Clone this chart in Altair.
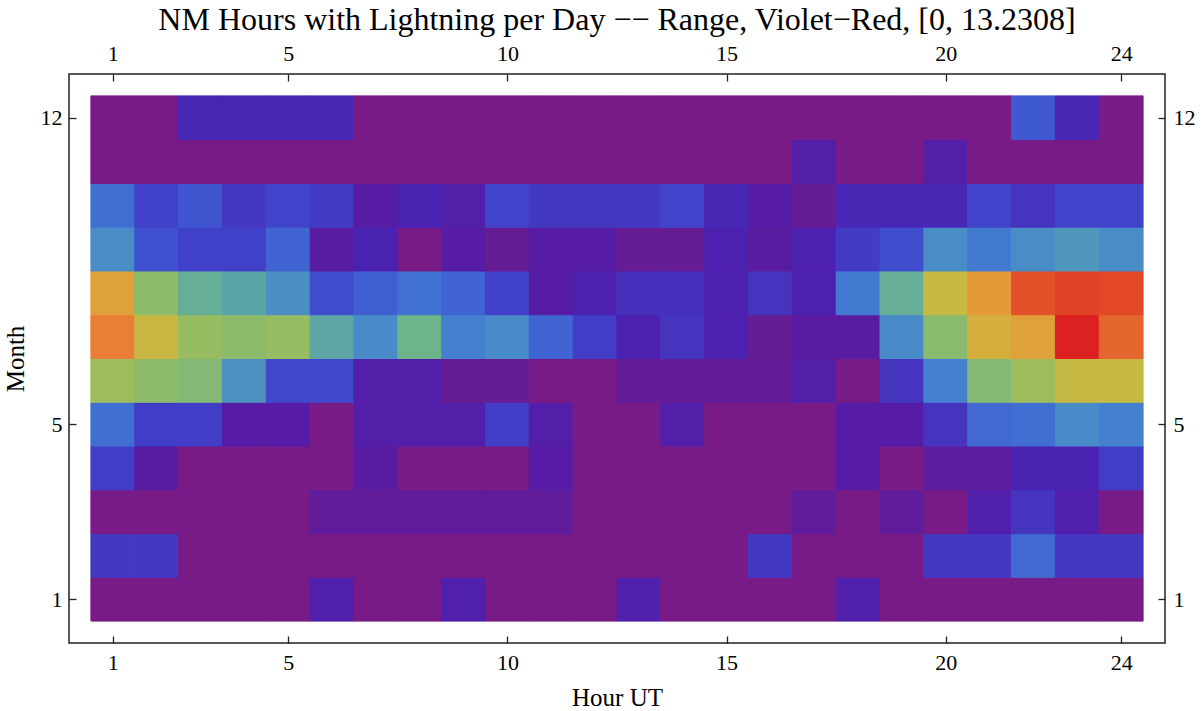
import altair as alt
import pandas as pd

# Average hours with lightning per day, by month (rows) and UT hour (columns 1..24)
hours = list(range(1, 25))
months = list(range(1, 13))

january = [0, 0, 0, 0, 0, 1.2, 0, 0, 1.2, 0, 0, 0, 1.2, 0, 0, 0, 0, 1.2, 0, 0, 0, 0, 0, 0]
february = [1.9, 1.9, 0, 0, 0, 0, 0, 0, 0, 0, 0, 0, 0, 0, 0, 1.9, 0, 0, 0, 1.9, 1.9, 3.1, 1.9, 1.9]
march = [0, 0, 0, 0, 0, 0.7, 0.7, 0.7, 0.7, 0.7, 0.7, 0, 0, 0, 0, 0, 0.7, 0, 0.7, 0, 1.2, 1.8, 1.2, 0]
april = [2.1, 0.9, 0, 0, 0, 0, 0.9, 0, 0, 0, 1.0, 0, 0, 0, 0, 0, 0, 1.0, 0, 0.8, 0.8, 1.4, 1.4, 2.1]
may = [3.2, 2.1, 2.1, 1.0, 1.0, 0, 1.1, 1.1, 1.1, 2.1, 1.1, 0, 0, 1.1, 0, 0, 0, 1.0, 1.0, 1.8, 3.1, 3.2, 4.2, 3.8]
june = [7.5, 7.0, 6.7, 4.5, 2.4, 2.4, 1.1, 1.1, 0.5, 0.5, 0, 0, 0.6, 0.6, 0.6, 0.6, 1.1, 0, 1.8, 3.8, 6.7, 7.5, 8.3, 8.3]
july = [10.3, 8.4, 7.3, 7.0, 7.3, 5.4, 4.2, 6.1, 3.8, 4.2, 3.0, 2.1, 1.3, 1.8, 1.3, 0.5, 0.9, 0.9, 4.2, 6.9, 8.9, 9.4, 13.2308, 11.0]
august = [9.4, 7.0, 5.8, 5.3, 4.4, 2.5, 2.9, 3.3, 3.0, 2.2, 1.0, 1.3, 1.7, 1.7, 1.3, 1.8, 1.3, 3.6, 5.8, 8.3, 9.7, 11.6, 12.0, 11.8]
september = [4.3, 2.6, 2.2, 2.2, 3.0, 0.9, 1.4, 0, 1.0, 0.5, 1.0, 1.0, 0.5, 0.5, 1.3, 0.9, 1.3, 2.0, 2.5, 4.3, 3.6, 4.3, 4.7, 4.3]
october = [3.2, 2.2, 2.7, 1.9, 2.3, 2.0, 1.0, 1.4, 1.1, 2.3, 1.9, 1.9, 1.9, 2.3, 1.5, 1.0, 0.5, 1.5, 1.5, 1.5, 2.3, 1.8, 2.3, 2.3]
november = [0, 0, 0, 0, 0, 0, 0, 0, 0, 0, 0, 0, 0, 0, 0, 0, 1.1, 0, 0, 1.1, 0, 0, 0, 0]
december = [0, 0, 1.5, 1.5, 1.5, 1.5, 0, 0, 0, 0, 0, 0, 0, 0, 0, 0, 0, 0, 0, 0, 0, 2.8, 1.5, 0]

rows = [january, february, march, april, may, june,
        july, august, september, october, november, december]

hour_ticks = [1, 5, 10, 15, 20, 24]
month_ticks = [1, 5, 12]

# Violet-red rainbow colour map over [0, 13.2308]
color_stops = [0, 0.5, 1.0, 1.4, 1.8, 2.2, 2.7, 3.2, 3.8, 4.3, 5.3, 6.1,
               7.0, 7.4, 8.3, 9.0, 9.7, 10.3, 11.0, 11.8, 13.2308]
color_range = ["#781B86", "#661C93", "#561CA5", "#4A22B2", "#4535BE", "#4040C8",
               "#3F55D0", "#406ED2", "#4580D0", "#4A8CC6", "#5AA4A8", "#6EB48B",
               "#8EBB69", "#9ABC60", "#C6B944", "#D8AC3C", "#E49A38", "#E97E34",
               "#E4662F", "#E24827", "#DB2121"]

records = []
for m, row in zip(months, rows):
    for h, v in zip(hours, row):
        records.append({"hour": h, "month": m, "value": v})
df = pd.DataFrame(records)

FONT = "Liberation Serif"
W, H = 1096, 569
TICK = 7

x_scale = alt.Scale(domain=[0, 25], nice=False, zero=False)
y_scale = alt.Scale(domain=[0, 13], nice=False, zero=False)
c_scale = alt.Scale(domain=color_stops, range=color_range, interpolate="rgb", clamp=True)


def frame_axis(orient, values, title=None, **extra):
    # ticks are pulled inside the frame: the axis line sits TICK px inward
    return alt.Axis(orient=orient, values=values, title=title, grid=False,
                    domain=False, ticks=True, tickSize=TICK, offset=-TICK,
                    tickColor="#222222", tickWidth=1.3, labelFlush=False,
                    labelFont=FONT, labelFontSize=22, labelColor="black",
                    titleFont=FONT, titleFontSize=25, titleFontWeight="normal",
                    titleColor="black", **extra)


def heat_layer(x_axis, y_axis, opacity):
    # each cell is stroked in its own colour so neighbouring cells meet without seams
    return alt.Chart(df).transform_calculate(
        x0="datum.hour - 0.5", x1="datum.hour + 0.5",
        y0="datum.month - 0.5", y1="datum.month + 0.5",
    ).mark_rect(opacity=opacity, strokeWidth=1.0).encode(
        x=alt.X("x0:Q", scale=x_scale, axis=x_axis),
        x2="x1:Q",
        y=alt.Y("y0:Q", scale=y_scale, axis=y_axis),
        y2="y1:Q",
        color=alt.Color("value:Q", scale=c_scale, legend=None),
        stroke=alt.Stroke("value:Q", scale=c_scale, legend=None),
    )


heat = heat_layer(
    frame_axis("bottom", hour_ticks, "Hour UT", labelPadding=9, titlePadding=12),
    frame_axis("left", month_ticks, "Month", labelPadding=7, titlePadding=12),
    1,
)
mirror = heat_layer(
    frame_axis("top", hour_ticks, None, labelPadding=9),
    frame_axis("right", month_ticks, None, labelPadding=8),
    0,
)

chart = alt.layer(heat, mirror).resolve_axis(
    x="independent", y="independent"
).properties(
    width=W,
    height=H,
    title=alt.TitleParams(
        "NM Hours with Lightning per Day \u2212\u2212 Range, Violet\u2212Red, [0, 13.2308]",
        font=FONT, fontSize=32, fontWeight="normal", color="black",
        anchor="middle", offset=5,
    ),
    autosize=alt.AutoSizeParams(type="none"),
    padding={"left": 69, "top": 74, "right": 39, "bottom": 68},
).configure(background="white").configure_view(stroke="#222222", strokeWidth=1.5)

chart.save("out.html", embed_options={"renderer": "svg", "actions": False})
